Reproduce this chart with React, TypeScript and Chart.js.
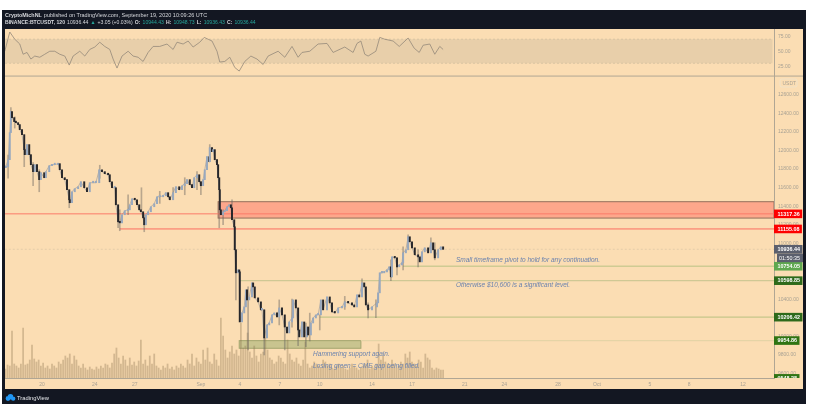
import { useEffect, useRef } from 'react';
import { Chart, registerables } from 'chart.js';

Chart.register(...registerables);

const candleHours = [
  -67, -65, -61, -58, -56, -54, -50, -47, -43, -40, -36, -32, -31, -27, -23, -20, -16, -13, -9, -5, -2,
  4, 7, 13, 18, 23, 29, 32, 36, 41, 45, 49, 50, 54, 59, 65, 70, 76, 81, 86, 92, 97, 103, 108, 113, 119,
  122, 126, 131, 133, 137, 140, 144, 149, 155, 158, 162, 167, 171, 175, 178, 182, 184, 187, 191, 196,
  202, 207, 212, 218, 223, 227, 230, 236, 241, 247, 252, 257, 261, 266, 270, 274, 279, 283, 286, 290,
  293, 297, 301, 302, 306, 308, 311, 315, 317, 319, 320, 322, 326, 329, 333, 337, 340, 342, 346, 347,
  349, 353, 355, 356, 360, 364, 367, 369, 373, 378, 380, 383, 389, 394, 396, 400, 405, 409, 414, 418,
  423, 427, 432, 437, 441, 445, 450, 452, 457, 461, 463, 468, 472, 477, 479, 484, 488, 493, 497, 502,
  506, 513, 518, 522, 527, 533, 540, 545, 551, 558, 562, 567, 571, 576, 580, 583, 587, 594, 603, 605,
  608, 612, 616, 621, 625, 628, 630, 635, 639, 643, 648, 650, 655, 659, 662, 666, 671, 677, 680, 684,
  689, 695, 700, 704, 707, 713, 718, 722,
];
const candleClose = [
  11814, 11825, 11900, 12191, 12417, 12352, 12309, 12298, 12277, 12223, 12169, 12008, 11954, 12062, 11954, 11846, 11771, 11846, 11771, 11685, 11760,
  11706, 11771, 11835, 11846, 11846, 11857, 11792, 11706, 11685, 11577, 11469, 11437, 11555, 11588, 11609, 11663, 11598, 11555, 11652, 11652, 11652, 11792, 11771, 11749, 11738,
  11663, 11598, 11598, 11415, 11232, 11221, 11308, 11351, 11361, 11415, 11480, 11469, 11415, 11361, 11340, 11275, 11200, 11308, 11340, 11394,
  11426, 11501, 11501, 11512, 11545, 11501, 11469, 11545, 11609, 11577, 11620, 11641, 11685, 11631, 11598, 11706, 11738, 11663, 11620, 11685,
  11792, 11932, 11878, 12029, 11986, 12008, 11900, 11846, 11706, 11577, 11361, 11308, 11340, 11351, 11394, 11415, 11383, 11254, 11178, 10931,
  10683, 10715, 10694, 10155, 10252, 10317, 10500, 10392, 10424, 10575, 10532, 10414, 10371, 10285, 10285, 9983, 10123, 10144, 10231, 10252,
  10209, 10306, 10231, 10101, 10037, 10155, 10198, 10392, 10306, 10069, 9994, 10155, 9994, 10101, 10015, 10144, 10198, 10231, 10231, 10392,
  10285, 10424, 10360, 10263, 10252, 10306, 10317, 10371, 10360, 10338, 10317, 10446, 10424, 10575, 10532, 10338, 10285, 10317, 10360, 10468,
  10683, 10683, 10694, 10715, 10748, 10640, 10855, 10844, 10748, 10769, 10791, 10898, 10931, 11071, 11017, 10952, 10877, 10855, 10801, 10909,
  10952, 10898, 11006, 10931, 10844, 10931, 10963, 10936,
];

const wickHours = [
  -61, -56, -49, -32, -16, -5, 49, 104, 137, 140, 155, 179, 184, 212, 236, 257, 279, 286, 302, 319, 326, 342,
  349, 371, 400, 427, 437, 450, 461, 475, 482, 500, 545, 576, 587, 601, 628, 639, 650, 659, 677, 700, 707,
];
const wickHigh = [
  11950, 12460, 12360, 12083, 11868, 11792, 11555, 11840, 11394, 11361, 11523, 11598, 11308, 11560, 11600, 11706, 11771, 11663, 12062, 11437, 11361, 11469,
  10931, 10532, 10285, 10392, 10155, 10400, 10231, 10144, 10250, 10231, 10430, 10620, 10360, 10392, 10823, 10844, 10963, 11092, 10931, 11060, 11006,
];
const wickLow = [
  11700, 12277, 12240, 11825, 11620, 11555, 11383, 11700, 11168, 11136, 11308, 11361, 11125, 11430, 11470, 11523, 11577, 11523, 11900, 11168, 11200, 11286,
  10392, 9854, 9800, 10123, 9854, 10100, 9900, 9890, 9950, 10069, 10290, 10440, 10198, 10200, 10598, 10661, 10715, 10952, 10748, 10900, 10823,
];

// one volume reading per 4 hours, starting at the left edge
const volumeStartHour = -66;
const volumeStepHours = 4;
const volumes = [
  9, 13, 12, 47, 14, 12, 10, 14, 50, 13, 14, 18, 33, 19, 16, 18, 12, 15, 10, 12,
  9, 14, 12, 10, 16, 14, 18, 22, 20, 24, 14, 22, 18, 12, 10, 14, 10, 8, 11, 9,
  8, 11, 9, 12, 10, 14, 13, 10, 15, 24, 30, 20, 14, 22, 18, 12, 20, 13, 16, 12,
  17, 38, 14, 18, 12, 22, 14, 24, 12, 10, 8, 12, 10, 14, 9, 11, 8, 12, 10, 14,
  12, 10, 18, 14, 24, 12, 20, 16, 14, 28, 18, 30, 16, 14, 24, 18, 12, 60, 42, 28,
  20, 26, 32, 24, 28, 22, 55, 30, 32, 45, 26, 20, 32, 22, 16, 24, 26, 40, 28, 20,
  18, 14, 16, 22, 20, 16, 14, 38, 24, 18, 16, 20, 14, 12, 18, 36, 14, 10, 12, 16,
  14, 12, 10, 18, 16, 12, 14, 10, 9, 12, 14, 10, 12, 9, 8, 10, 14, 12, 10, 8,
  10, 12, 14, 18, 9, 12, 10, 14, 34, 18, 22, 16, 14, 12, 18, 14, 10, 12, 16, 14,
  24, 20, 26, 16, 14, 12, 18, 16, 10, 24, 20, 18, 10, 8, 10, 9, 8, 8,
];

const rsiHours = [
  -67, -58, -49, -40, -34, -27, -20, -13, -4, 5, 14, 23, 32, 41, 49, 56, 68, 77, 86, 95, 104, 113, 122, 128, 135, 144,
  155, 164, 173, 182, 191, 200, 212, 225, 236, 243, 254, 263, 272, 284, 292, 299, 306, 315, 320, 329, 338, 347, 355,
  365, 376, 387, 398, 407, 425, 437, 450, 461, 468, 482, 497, 513, 524, 545, 560, 567, 574, 581, 587, 601, 608, 617,
  632, 643, 659, 670, 679, 686, 698, 707, 716, 722,
];
const rsiValues = [
  50, 82, 70, 62, 45, 48, 37, 42, 40, 45, 50, 50, 45, 42, 27, 42, 50, 42, 53, 57, 65, 58, 53, 37, 22, 42,
  50, 42, 40, 33, 48, 58, 58, 62, 53, 65, 62, 67, 57, 65, 73, 70, 67, 50, 32, 33, 40, 23, 17,
  33, 42, 37, 28, 42, 50, 40, 58, 40, 48, 50, 62, 63, 48, 57, 48, 63, 67, 45, 42, 50, 73, 70,
  67, 58, 72, 55, 48, 60, 62, 45, 58, 53,
];

const priceTicks = [9600, 9800, 10000, 10200, 10400, 10600, 10800, 11000, 11200, 11400, 11600, 11800, 12000, 12200, 12400, 12600];
const rsiTicks = [25, 50, 75];
const timeTickHours = [0, 95, 167, 286, 356, 428, 500, 594, 666, 761, 832, 929, 999, 1094, 1165, 1262];
const timeTickLabels = ['20', '24', '27', 'Sep', '4', '7', '10', '14', '17', '21', '24', '28', 'Oct', '5', '8', '12'];

const levelPrices = [11317.36, 11155.08, 10754.05, 10598.85, 10206.42, 9954.86];
const levelFrom = [-67, 140, 650, 355, 500, 574];
const levelColors = ['#fb7b68', '#fb6e60', '#cfcb93', '#cfc894', '#c6c68a', '#e5d4a6'];

const lastPrice = 10936.44;
const tagLabels = ['11317.36', '11155.08', '10936.44', '10754.05', '10598.85', '10206.42', '9954.86', '9548.28'];
const tagPrices = [11317.36, 11155.08, 10936.44, 10754.05, 10598.85, 10206.42, 9954.86, 9548.28];
const tagColors = ['#fd0000', '#fd0000', '#5b5f6d', '#5fa84f', '#2e6a1b', '#2e6a1b', '#2f7413', '#2f7413'];

const noteTexts = [
  'Small timeframe pivot to hold for any continuation.',
  'Otherwise $10,600 is a significant level.',
  'Hammering support again.',
  'Losing green = CME gap being filled.',
];
const noteHours = [745, 745, 488, 488];
const notePrices = [10815, 10545, 9805, 9675];

const FONT = '"Liberation Sans", Arial, sans-serif';
const AXIS_TEXT = '#a9a294';
const AXIS_LINE = '#b0a694';
const RIGHT_EDGE = 817 - 14;
const PANE_TOP = 76;

const chartDecor = {
  id: 'chartDecor',
  beforeDraw(chart: any) {
    const { ctx, chartArea } = chart;
    const { rsi, price, x } = chart.scales;
    ctx.save();
    ctx.fillStyle = '#131722';
    ctx.fillRect(2, 10, 804, 394);
    ctx.fillStyle = '#fbddb3';
    ctx.fillRect(chartArea.left, 29, RIGHT_EDGE - chartArea.left, 360);

    // header lines
    ctx.textBaseline = 'middle';
    ctx.textAlign = 'left';
    ctx.fillStyle = '#d6d8dc';
    ctx.font = `bold 5.4px ${FONT}`;
    ctx.fillText('CryptoMichNL', 5, 15.5);
    const nameWidth = ctx.measureText('CryptoMichNL').width;
    ctx.font = `5.5px ${FONT}`;
    ctx.fillText('published on TradingView.com, September 19, 2020 10:09:26 UTC', 7 + nameWidth, 15.5);

    const white = '#d6d8dc';
    const teal = '#26a69a';
    const parts: [string, string, boolean][] = [
      ['BINANCE:BTCUSDT, 120', white, true],
      ['10936.44', white, false],
      ['▲', teal, false],
      ['+3.05 (+0.03%)', white, false],
      ['O:', white, true], ['10944.43', teal, false],
      ['H:', white, true], ['10948.73', teal, false],
      ['L:', white, true], ['10936.43', teal, false],
      ['C:', white, true], ['10936.44', teal, false],
    ];
    let cursor = 5;
    for (const [text, color, bold] of parts) {
      ctx.font = `${bold ? 'bold ' : ''}5.1px ${FONT}`;
      ctx.fillStyle = color;
      ctx.fillText(text, cursor, 23);
      cursor += ctx.measureText(text).width + 2.1;
    }

    // footer
    ctx.fillStyle = '#2196f3';
    ctx.beginPath();
    ctx.arc(8, 398.5, 2.4, 0, Math.PI * 2);
    ctx.arc(10.5, 396.8, 2.8, 0, Math.PI * 2);
    ctx.arc(13.2, 398.6, 2.2, 0, Math.PI * 2);
    ctx.fill();
    ctx.fillStyle = '#e6e8ec';
    ctx.font = `5.8px ${FONT}`;
    ctx.fillText('TradingView', 17, 398);

    // RSI band
    const bandTop = rsi.getPixelForValue(70);
    const bandBottom = rsi.getPixelForValue(30);
    const bandRight = chartArea.right - 1.5;
    ctx.fillStyle = '#e8cfaa';
    ctx.fillRect(chartArea.left, bandTop, bandRight - chartArea.left, bandBottom - bandTop);
    ctx.strokeStyle = '#cfbd9e';
    ctx.lineWidth = 0.7;
    ctx.setLineDash([2, 2]);
    ctx.beginPath();
    ctx.moveTo(chartArea.left, bandTop);
    ctx.lineTo(bandRight, bandTop);
    ctx.moveTo(chartArea.left, bandBottom);
    ctx.lineTo(bandRight, bandBottom);
    ctx.stroke();
    ctx.setLineDash([]);

    // pane separator
    ctx.strokeStyle = AXIS_LINE;
    ctx.lineWidth = 1;
    ctx.beginPath();
    ctx.moveTo(chartArea.left, rsi.bottom);
    ctx.lineTo(RIGHT_EDGE, rsi.bottom);
    ctx.stroke();

    // resistance zone and green support box
    const left = x.getPixelForValue(317);
    const top = price.getPixelForValue(11448);
    const bottom = price.getPixelForValue(11272);
    ctx.fillStyle = '#fda78b';
    ctx.fillRect(left, top, chartArea.right - left, bottom - top);
    ctx.strokeStyle = '#94705c';
    ctx.strokeRect(left, top, chartArea.right - left, bottom - top);

    const greenLeft = x.getPixelForValue(355);
    const greenRight = x.getPixelForValue(574);
    const greenTop = price.getPixelForValue(9954);
    const greenBottom = price.getPixelForValue(9872);
    ctx.fillStyle = '#c9c48f';
    ctx.fillRect(greenLeft, greenTop, greenRight - greenLeft, greenBottom - greenTop);
    ctx.strokeStyle = '#a3a56e';
    ctx.strokeRect(greenLeft, greenTop, greenRight - greenLeft, greenBottom - greenTop);
    ctx.restore();
  },
  afterDraw(chart: any) {
    const { ctx, chartArea } = chart;
    const { price, x } = chart.scales;
    ctx.save();
    ctx.textBaseline = 'middle';

    // notes written on the chart
    ctx.textAlign = 'left';
    ctx.fillStyle = '#6a82ae';
    ctx.font = `italic 6.5px ${FONT}`;
    noteTexts.forEach((text, i) => {
      ctx.fillText(text, x.getPixelForValue(noteHours[i]), price.getPixelForValue(notePrices[i]));
    });

    // USDT badge
    ctx.strokeStyle = '#efe3cd';
    ctx.lineWidth = 0.8;
    ctx.beginPath();
    ctx.roundRect(chartArea.right + 6, 79, 17, 8, 2);
    ctx.stroke();
    ctx.fillStyle = AXIS_TEXT;
    ctx.font = `5px ${FONT}`;
    ctx.fillText('USDT', chartArea.right + 8.5, 83.5);

    // price tags, cut off by the time axis
    ctx.beginPath();
    ctx.rect(chartArea.right, PANE_TOP, RIGHT_EDGE - chartArea.right + 2, chartArea.bottom - PANE_TOP);
    ctx.clip();
    ctx.font = `bold 5.4px ${FONT}`;
    tagLabels.forEach((label, i) => {
      const y = price.getPixelForValue(tagPrices[i]);
      const w = ctx.measureText(label).width + 6;
      ctx.fillStyle = tagColors[i];
      ctx.fillRect(chartArea.right, y - 4.3, Math.min(w, 29), 8.6);
      ctx.fillStyle = '#ffffff';
      ctx.fillText(label, chartArea.right + 3.5, y + 0.3);
    });
    const countdownY = price.getPixelForValue(lastPrice) + 8.6;
    ctx.fillStyle = tagColors[2];
    ctx.fillRect(chartArea.right + 3, countdownY - 4.3, 26, 8.6);
    ctx.fillStyle = '#ffffff';
    ctx.font = `5.4px ${FONT}`;
    ctx.fillText('01:50:35', chartArea.right + 5, countdownY + 0.3);
    ctx.restore();
  },
};

export default function App() {
  const canvasRef = useRef<HTMLCanvasElement>(null);

  useEffect(() => {
    if (!canvasRef.current) return;

    const candles = candleHours.map((h, i) => ({
      x: h,
      y: [i === 0 ? candleClose[0] : candleClose[i - 1], candleClose[i]],
    }));
    const candleColors = candleClose.map((c, i) => (i > 0 && c < candleClose[i - 1] ? '#26262a' : '#98a8be'));

    const chart = new Chart(canvasRef.current, {
      type: 'bar',
      data: {
        datasets: [
          {
            type: 'bar',
            data: volumes.map((v, i) => ({ x: volumeStartHour + i * volumeStepHours, y: v })),
            xAxisID: 'x',
            yAxisID: 'volume',
            backgroundColor: 'rgba(135, 110, 75, 0.34)',
            barThickness: 1.1,
            grouped: false,
            order: 9,
          },
          ...levelPrices.map((p, i) => ({
            type: 'line' as const,
            data: [{ x: levelFrom[i], y: p }, { x: 1318, y: p }],
            xAxisID: 'x',
            yAxisID: 'price',
            borderColor: levelColors[i],
            borderWidth: i < 2 ? 1 : 1.3,
            pointRadius: 0,
            order: 8,
          })),
          {
            type: 'line',
            data: [{ x: -67, y: lastPrice }, { x: 1318, y: lastPrice }],
            xAxisID: 'x',
            yAxisID: 'price',
            borderColor: '#d9c4a5',
            borderWidth: 0.7,
            borderDash: [2, 2],
            pointRadius: 0,
            order: 8,
          },
          {
            type: 'line',
            data: rsiHours.map((h, i) => ({ x: h, y: rsiValues[i] })),
            xAxisID: 'x',
            yAxisID: 'rsi',
            borderColor: '#94897a',
            borderWidth: 0.8,
            pointRadius: 0,
            order: 7,
          },
          {
            type: 'bar',
            data: wickHours.map((h, i) => ({ x: h, y: [wickLow[i], wickHigh[i]] })),
            xAxisID: 'x',
            yAxisID: 'price',
            backgroundColor: 'rgba(105, 100, 95, 0.45)',
            barThickness: 1,
            grouped: false,
            order: 6,
          },
          {
            type: 'line',
            data: candleHours.map((h, i) => ({ x: h, y: candleClose[i] })),
            xAxisID: 'x',
            yAxisID: 'price',
            borderColor: 'rgba(125, 135, 150, 0.7)',
            borderWidth: 0.7,
            pointRadius: 0,
            order: 5,
          },
          {
            type: 'bar',
            data: candles,
            xAxisID: 'x',
            yAxisID: 'price',
            backgroundColor: candleColors,
            barThickness: 1.3,
            minBarLength: 1.5,
            grouped: false,
            order: 4,
          },
        ] as any,
      },
      options: {
        responsive: false,
        devicePixelRatio: 1,
        animation: false,
        layout: { padding: { left: 5, right: 14, top: 29, bottom: 27 } },
        plugins: { legend: { display: false }, tooltip: { enabled: false } },
        scales: {
          x: {
            type: 'linear',
            min: -66.6,
            max: 1317.6,
            offset: false,
            grid: { display: false, tickLength: 2 },
            border: { color: AXIS_LINE },
            afterBuildTicks: (axis: any) => { axis.ticks = timeTickHours.map((value) => ({ value })); },
            afterFit: (axis: any) => { axis.height = 12; },
            ticks: {
              autoSkip: false,
              maxRotation: 0,
              padding: 2,
              color: AXIS_TEXT,
              font: { family: FONT, size: 5 },
              callback: (value: any) => timeTickLabels[timeTickHours.indexOf(value)],
            },
          },
          rsi: {
            type: 'linear',
            position: 'right',
            stack: 'panes',
            stackWeight: 47,
            weight: 1,
            min: 8.7,
            max: 87,
            grid: { display: false, tickLength: 2 },
            border: { color: AXIS_LINE },
            afterBuildTicks: (axis: any) => { axis.ticks = rsiTicks.map((value) => ({ value })); },
            afterFit: (axis: any) => { axis.width = 29; },
            ticks: {
              padding: 2,
              color: AXIS_TEXT,
              font: { family: FONT, size: 5 },
              callback: (value: any) => Number(value).toFixed(2),
            },
          },
          price: {
            type: 'linear',
            position: 'right',
            stack: 'panes',
            stackWeight: 301.5,
            weight: 2,
            min: 9552.3,
            max: 12799,
            grid: { display: false, tickLength: 2 },
            border: { color: AXIS_LINE },
            afterBuildTicks: (axis: any) => { axis.ticks = priceTicks.map((value) => ({ value })); },
            afterFit: (axis: any) => { axis.width = 29; },
            ticks: {
              autoSkip: false,
              padding: 2,
              color: AXIS_TEXT,
              font: { family: FONT, size: 5 },
              callback: (value: any) => Number(value).toFixed(2),
            },
          },
          volume: {
            type: 'linear',
            display: false,
            min: 0,
            max: 349,
          },
        },
      } as any,
      plugins: [chartDecor],
    });

    return () => { chart.destroy(); };
  }, []);

  return (
    <div style={{ position: 'absolute', left: 0, top: 0, width: 817, height: 417 }}>
      <canvas ref={canvasRef} width={817} height={417} style={{ display: 'block', filter: 'blur(0.5px)' }} />
    </div>
  );
}
